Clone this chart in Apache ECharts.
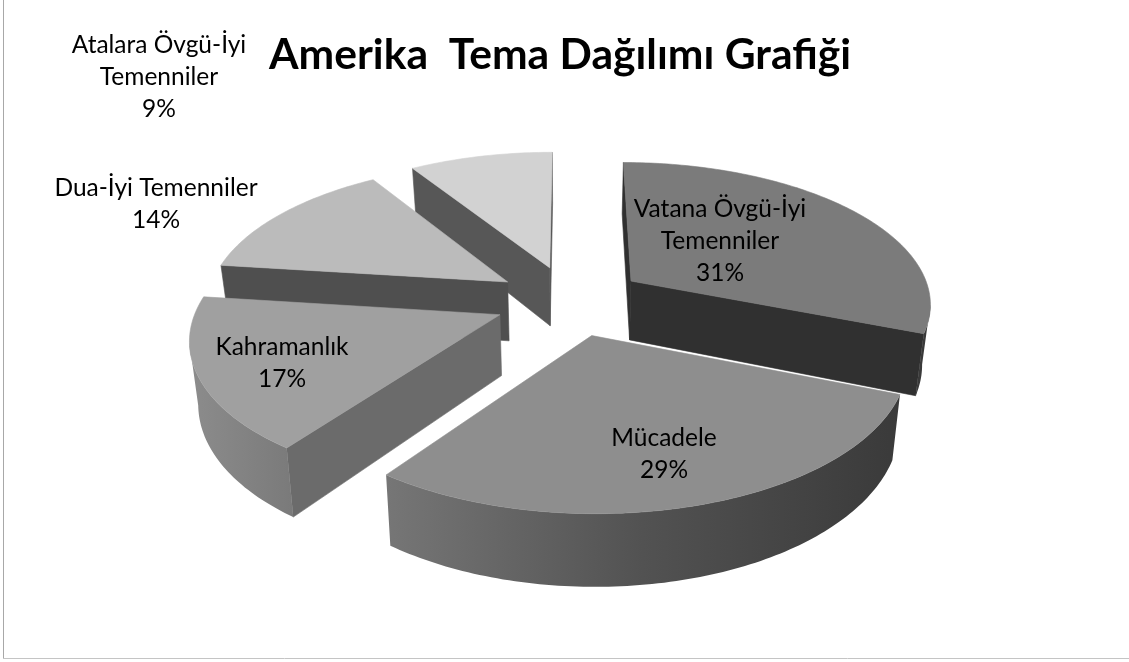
<!DOCTYPE html>
<html>
<head>
<meta charset="utf-8">
<style>html,body{margin:0;padding:0;background:#fff}#c{width:1129px;height:662px}</style>
<script src="https://cdn.jsdelivr.net/npm/echarts@6/dist/echarts.min.js"></script>
</head>
<body>
<div id="c"></div>
<script>
// data
const chartTitle = 'Amerika  Tema Dağılımı Grafiği';
const categories = ['Vatana Övgü-İyi\nTemenniler', 'Mücadele', 'Kahramanlık', 'Dua-İyi Temenniler', 'Atalara Övgü-İyi\nTemenniler'];
const values = [31, 29, 17, 14, 9];

// styles, one entry per slice
const topColors = ['#7b7b7b', '#8e8e8e', '#a0a0a0', '#bbbbbb', '#d2d2d2'];
const cutColors = ['#303030', '#4a4a4a', '#6b6b6b', '#4f4f4f', '#575757'];
const wallStops = [
  ['#3a3a3a', '#3a3a3a'],
  ['#767676', '#525252', '#3a3a3a'],
  ['#8c8c8c', '#7a7a7a'],
  ['#777777', '#777777'],
  ['#777777', '#777777']
];
const paintOrder = [4, 3, 2, 1, 0];          // z rank of each slice, back to front
const labelAnchors = [[720, 209], [664, 438], [282, 347], [156, 188], [159, 45]];

// 3D projection of the exploded pie
const view = { cx: 570, cy: 300.5, A: 301, B: 141, p: 0.145, explode: 0.25, depth: 60, shrink: 0.977 };
function project(x, y, bottom) {
  const w = 1 - view.p * y;
  let X = view.A * x / w;
  let Y = view.B * y / w;
  if (bottom) { X *= view.shrink; Y += view.depth / w; }
  return [view.cx + X, view.cy + Y];
}

const total = values.reduce((a, b) => a + b, 0);
function renderItem(params, api) {
  const i = params.dataIndex;
  const before = values.slice(0, i).reduce((a, b) => a + b, 0);
  const a0 = before / total * 2 * Math.PI;
  const a1 = (before + values[i]) / total * 2 * Math.PI;
  const mid = (a0 + a1) / 2;
  const ox = view.explode * Math.sin(mid), oy = -view.explode * Math.cos(mid);
  const ptAt = (a, b) => project(ox + Math.sin(a), oy - Math.cos(a), b);
  const apexT = project(ox, oy, false), apexB = project(ox, oy, true);

  const n = Math.max(8, Math.round((a1 - a0) / Math.PI * 180));
  const anglesList = [];
  for (let k = 0; k <= n; k++) anglesList.push(a0 + (a1 - a0) * k / n);
  const arcT = anglesList.map(a => ptAt(a, false));
  const arcB = anglesList.map(a => ptAt(a, true));

  const children = [];
  const base = paintOrder[i] * 10;
  const poly = (points, fill, z) => ({
    type: 'polygon', z2: base + z, shape: { points },
    style: { fill, stroke: fill, lineWidth: 0.6 }
  });

  // cut faces, only those turned towards the viewer
  if (arcT[0][0] < apexT[0]) children.push(poly([apexT, arcT[0], arcB[0], apexB], cutColors[i], 1));
  if (apexT[0] < arcT[n][0]) children.push(poly([arcT[n], apexT, apexB, arcB[n]], cutColors[i], 1));

  // outer wall: the part of the arc that runs leftwards on screen
  let from = -1, to = -1;
  for (let k = 0; k < n; k++) {
    if (arcT[k + 1][0] < arcT[k][0]) { if (from < 0) from = k; to = k + 1; }
  }
  if (from >= 0) {
    const top = arcT.slice(from, to + 1);
    const bot = arcB.slice(from, to + 1).reverse();
    const grad = new echarts.graphic.LinearGradient(0, 0, 1, 0,
      wallStops[i].map((c, k, l) => ({ offset: k / (l.length - 1), color: c })));
    children.push({ type: 'polygon', z2: base + 2, shape: { points: top.concat(bot) }, style: { fill: grad } });
  }

  // top face
  children.push(poly([apexT].concat(arcT), topColors[i], 3));

  // label
  children.push({
    type: 'text', z2: 200,
    style: {
      x: labelAnchors[i][0], y: labelAnchors[i][1],
      text: categories[i] + '\n' + values[i] + '%',
      fill: '#000', font: '24.5px Lato', lineHeight: 32,
      align: 'center', verticalAlign: 'top',
      padding: [-16, 0, 0, 0]
    }
  });
  return { type: 'group', children };
}

const chart = echarts.init(document.getElementById('c'), null, { renderer: 'canvas' });
chart.setOption({
  animation: false,
  backgroundColor: '#ffffff',
  title: {
    text: chartTitle, left: 555, top: 29, textAlign: 'center',
    textStyle: { fontFamily: 'Lato', fontWeight: 'bold', fontSize: 42.6, color: '#000' }
  },
  graphic: [
    { type: 'line', shape: { x1: 3.5, y1: 0, x2: 3.5, y2: 658 }, style: { stroke: '#a8a8a8', lineWidth: 1 } },
    { type: 'line', shape: { x1: 3, y1: 658.5, x2: 1129, y2: 658.5 }, style: { stroke: '#c4c4c4', lineWidth: 1 } }
  ],
  series: [{
    type: 'custom',
    coordinateSystem: 'none',
    renderItem,
    data: values.map((v, i) => ({ name: categories[i], value: v }))
  }]
});
</script>
</body>
</html>
